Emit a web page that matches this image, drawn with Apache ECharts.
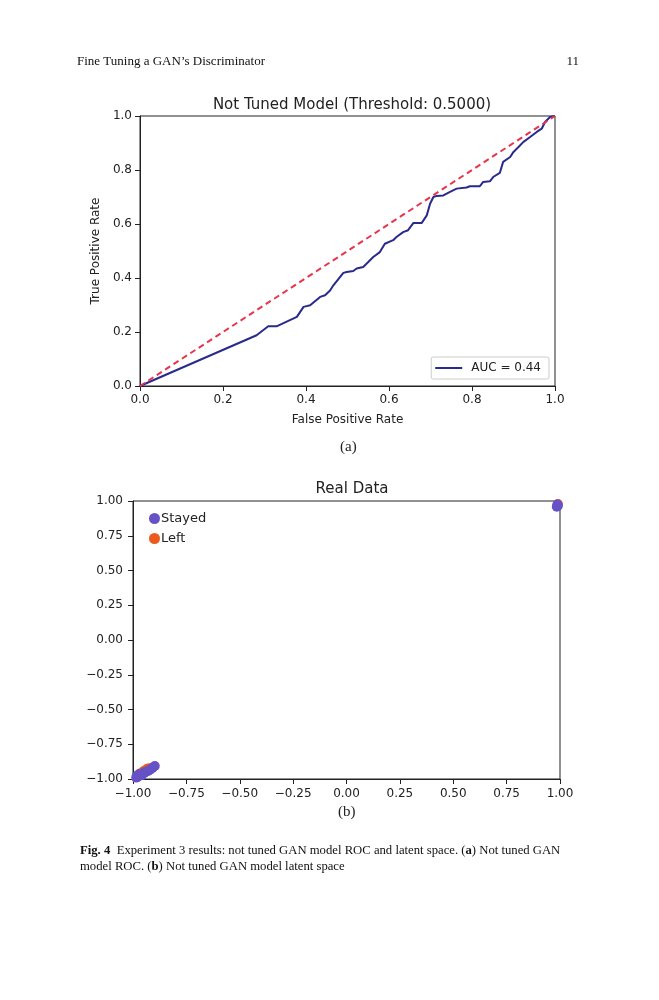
<!DOCTYPE html>
<html>
<head>
<meta charset="utf-8">
<script src="https://cdn.jsdelivr.net/npm/echarts@6/dist/echarts.min.js"></script>
<style>
html,body{margin:0;padding:0;background:#fff;}
#page{width:659px;height:1000px;}
</style>
</head>
<body>
<div id="page"></div>
<script>
// (a) ROC curve
var fpr = [0, 0.281, 0.309, 0.329, 0.378, 0.394, 0.410, 0.434, 0.446, 0.458, 0.466, 0.490, 0.498, 0.514, 0.522, 0.538,
    0.550, 0.562, 0.578, 0.590, 0.610, 0.618, 0.634, 0.646, 0.659, 0.679, 0.691, 0.699, 0.707, 0.715, 0.731,
    0.747, 0.763, 0.787, 0.795, 0.819, 0.827, 0.843, 0.851, 0.867, 0.875, 0.892, 0.900, 0.912, 0.924, 0.940,
    0.956, 0.968, 0.976, 0.988, 1.0];
var tpr = [0, 0.188, 0.221, 0.221, 0.256, 0.293, 0.299, 0.330, 0.336, 0.354, 0.373, 0.419, 0.422, 0.426, 0.435, 0.441,
    0.459, 0.478, 0.496, 0.527, 0.540, 0.552, 0.570, 0.577, 0.604, 0.604, 0.632, 0.675, 0.700, 0.704, 0.706,
    0.719, 0.731, 0.735, 0.740, 0.740, 0.756, 0.758, 0.774, 0.789, 0.830, 0.848, 0.867, 0.885, 0.904, 0.922,
    0.941, 0.953, 0.978, 0.996, 1.0];
var chanceX = [0, 1];
var chanceY = [0, 1];
var aucLabel = 'AUC = 0.44';

// (b) latent space points
var stayedX = [-0.985, -0.978, -0.970, -0.962, -0.955, -0.947, -0.938, -0.928, -0.918, -0.908, -0.898, -0.982, -0.972, -0.958, 0.988, 0.985, 0.990];
var stayedY = [-0.990, -0.984, -0.976, -0.969, -0.961, -0.954, -0.947, -0.941, -0.931, -0.919, -0.906, -0.976, -0.966, -0.972, 0.975, 0.958, 0.966];
var leftX = [-0.968, -0.950, -0.935, -0.925, 0.990];
var leftY = [-0.960, -0.942, -0.928, -0.922, 0.978];

function pairs(xs, ys){
    var out = [];
    for (var i = 0; i < xs.length; i++) out.push([xs[i], ys[i]]);
    return out;
}
function fmtB(v){ //matplotlib style minus sign
    return v < 0 ? '\u2212' + Math.abs(v).toFixed(2) : v.toFixed(2);
}

var mplFont = 'DejaVu Sans';
var tickText = {fontFamily: mplFont, fontSize: 12, color: '#222'};
var axisBox = {show: true, onZero: false, lineStyle: {color: '#222', width: 1}};
var tickOut = {show: true, inside: false, length: 5, lineStyle: {color: '#222'}};

var option = {
    backgroundColor: '#fff',
    animation: false,
    title: [
        {text: 'Not Tuned Model (Threshold: 0.5000)', left: 347, top: 93, textAlign: 'center',
            textStyle: {fontFamily: mplFont, fontSize: 15, fontWeight: 'normal', color: '#222'}},
        {text: 'Real Data', left: 347, top: 477, textAlign: 'center',
            textStyle: {fontFamily: mplFont, fontSize: 15, fontWeight: 'normal', color: '#222'}}
    ],
    legend: [
        {data: [{name: aucLabel, icon: 'rect'}], right: 110, top: 357, orient: 'vertical',
            borderColor: '#ccc', borderWidth: 1, borderRadius: 2, padding: [5, 8, 5, 4],
            itemWidth: 27, itemHeight: 2, itemGap: 4,
            textStyle: {fontFamily: mplFont, fontSize: 12, color: '#222', padding: [0, 0, 0, 4]}},
        {data: ['Stayed', 'Left'], left: 149, top: 512, orient: 'vertical',
            icon: 'circle', itemWidth: 11, itemHeight: 11, itemGap: 7, padding: 0,
            textStyle: {fontFamily: mplFont, fontSize: 13, color: '#222', padding: [0, 0, 0, -4]}}
    ],
    grid: [
        {left: 140, top: 116, width: 415, height: 270, show: true, borderColor: '#222', borderWidth: 1},
        {left: 133, top: 501, width: 427, height: 278, show: true, borderColor: '#222', borderWidth: 1}
    ],
    xAxis: [
        {gridIndex: 0, type: 'value', min: 0, max: 1, interval: 0.2,
            name: 'False Positive Rate', nameLocation: 'middle', nameGap: 28,
            nameTextStyle: {fontFamily: mplFont, fontSize: 12, color: '#222'},
            axisLine: axisBox, axisTick: tickOut, splitLine: {show: false},
            axisLabel: Object.assign({margin: 8, formatter: function(v){ return v.toFixed(1); }}, tickText)},
        {gridIndex: 1, type: 'value', min: -1, max: 1, interval: 0.25,
            axisLine: axisBox, axisTick: tickOut, splitLine: {show: false},
            axisLabel: Object.assign({margin: 9, formatter: fmtB}, tickText)}
    ],
    yAxis: [
        {gridIndex: 0, type: 'value', min: 0, max: 1, interval: 0.2,
            name: 'True Positive Rate', nameLocation: 'middle', nameGap: 33,
            nameTextStyle: {fontFamily: mplFont, fontSize: 12, color: '#222'},
            axisLine: axisBox, axisTick: tickOut, splitLine: {show: false},
            axisLabel: Object.assign({margin: 8, formatter: function(v){ return v.toFixed(1); }}, tickText)},
        {gridIndex: 1, type: 'value', min: -1, max: 1, interval: 0.25,
            axisLine: axisBox, axisTick: tickOut, splitLine: {show: false},
            axisLabel: Object.assign({margin: 10, formatter: fmtB}, tickText)}
    ],
    series: [
        {name: aucLabel, type: 'line', xAxisIndex: 0, yAxisIndex: 0, data: pairs(fpr, tpr),
            symbol: 'none', lineStyle: {color: '#2a2a8c', width: 2}, itemStyle: {color: '#2a2a8c'}, z: 3},
        {name: 'chance', type: 'line', xAxisIndex: 0, yAxisIndex: 0, data: pairs(chanceX, chanceY),
            symbol: 'none', lineStyle: {color: '#e8344c', width: 2, type: [6, 4]}, z: 4},
        {name: 'Left', type: 'scatter', xAxisIndex: 1, yAxisIndex: 1, data: pairs(leftX, leftY),
            symbolSize: 10, itemStyle: {color: '#ec5a1c', opacity: 1}},
        {name: 'Stayed', type: 'scatter', xAxisIndex: 1, yAxisIndex: 1, data: pairs(stayedX, stayedY),
            symbolSize: 10, itemStyle: {color: '#6652c6', opacity: 1}}
    ],
    graphic: [
        {type: 'text', left: 77, top: 55, style: {text: 'Fine Tuning a GAN\u2019s Discriminator',
            font: '13px "Liberation Serif"', fill: '#111'}},
        {type: 'text', right: 80, top: 55, style: {text: '11', font: '13px "Liberation Serif"', fill: '#111'}},
        {type: 'text', left: 340, top: 440, style: {text: '(a)', font: '15px "Liberation Serif"', fill: '#222'}},
        {type: 'text', left: 338, top: 805, style: {text: '(b)', font: '15px "Liberation Serif"', fill: '#222'}},
        {type: 'text', left: 80, top: 843, style: {
            text: '{b|Fig. 4}  Experiment 3 results: not tuned GAN model ROC and latent space. ({b|a}) Not tuned GAN\nmodel ROC. ({b|b}) Not tuned GAN model latent space',
            font: '12.7px "Liberation Serif"', fill: '#111', lineHeight: 16,
            rich: {b: {fontWeight: 'bold', fontFamily: 'Liberation Serif', fontSize: 12.7}}}}
    ]
};

var chart = echarts.init(document.getElementById('page'));
chart.setOption(option, true);
</script>
</body>
</html>
